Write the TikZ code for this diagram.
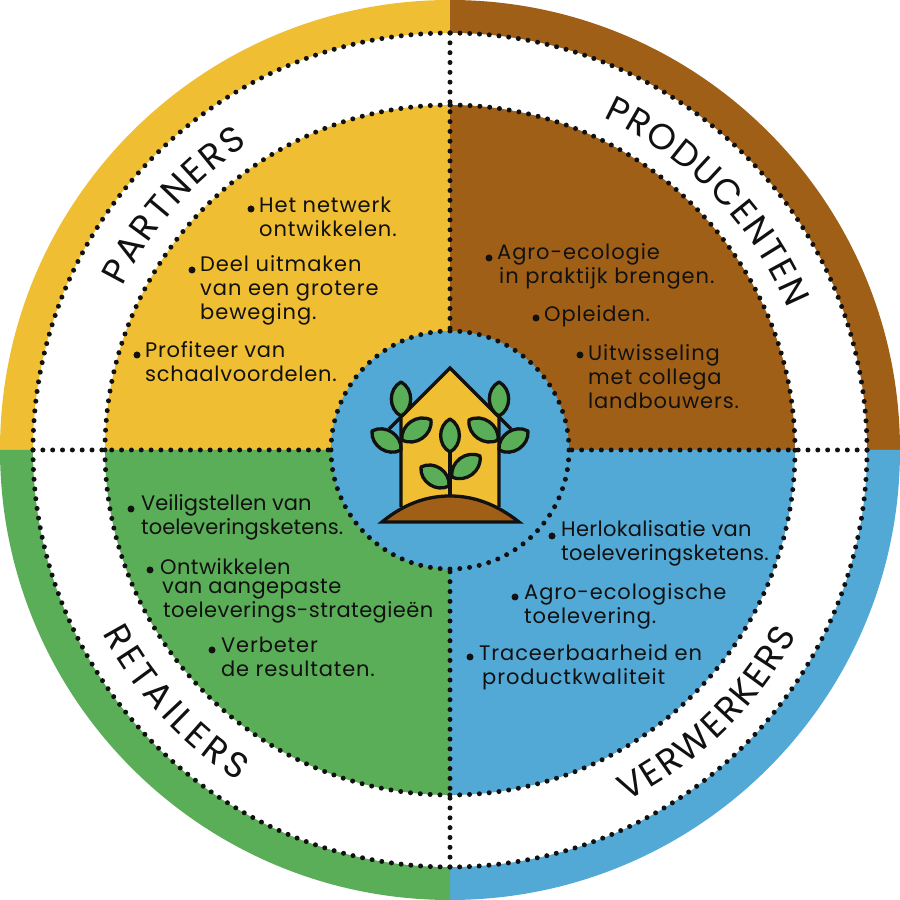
\documentclass[tikz,border=0pt]{standalone}
\usepackage{fontspec}
\setmainfont{Poppins}
\newfontfamily\ringfont{Poppins}
\usetikzlibrary{decorations.text,calc}
\definecolor{cy}{HTML}{F0BE32}
\definecolor{cb}{HTML}{A05F16}
\definecolor{cg}{HTML}{5BAE58}
\definecolor{cl}{HTML}{52A9D6}
\definecolor{ink}{HTML}{111111}
\tikzset{
  x=1pt,y=1pt,
  dots/.style={line width=5pt,line cap=round,dash pattern=on 0pt off 9.84pt,draw=ink},
  iconline/.style={draw=ink,line width=3.3pt,line join=miter},
  leafst/.style={draw=ink,line width=3.3pt,fill=cg,line join=round},
  txt/.style={anchor=west,align=left,inner sep=0pt,text=ink,font=\fontsize{21}{24}\selectfont\addfontfeature{LetterSpace=#1}},
  bul/.style={circle,fill=ink,inner sep=0pt,minimum size=7pt},
  ringlbl/.style n args={2}{decorate,decoration={text effects along path,text={#1},text align=center,
     text effects/.cd,text along path,
     character widths={font=\fontsize{36}{36}\ringfont,inner xsep=#2},
     characters={text=ink,font=\fontsize{36}{36}\ringfont}}}
}
\newcommand{\leaf}[2]{\draw[leafst] (#1) to[bend left=62,looseness=1.1] (#2) to[bend left=62,looseness=1.1] cycle;}
\begin{document}
\begin{tikzpicture}
\useasboundingbox (0,0) rectangle (900,900);
\coordinate (c) at (450,450);
% outer disc quadrants
\fill[cy] (c) -- (0,450) arc[start angle=180,delta angle=-90,radius=450] -- cycle;
\fill[cb] (c) -- (450,900) arc[start angle=90,delta angle=-90,radius=450] -- cycle;
\fill[cl] (c) -- (900,450) arc[start angle=0,delta angle=-90,radius=450] -- cycle;
\fill[cg] (c) -- (450,0) arc[start angle=270,delta angle=-90,radius=450] -- cycle;
% white ring
\fill[white] (c) circle[radius=417];
% inner quadrants
\fill[cy] (c) -- (105,450) arc[start angle=180,delta angle=-90,radius=345] -- cycle;
\fill[cb] (c) -- (450,795) arc[start angle=90,delta angle=-90,radius=345] -- cycle;
\fill[cl] (c) -- (795,450) arc[start angle=0,delta angle=-90,radius=345] -- cycle;
\fill[cg] (c) -- (450,105) arc[start angle=270,delta angle=-90,radius=345] -- cycle;
% dividing dotted spokes
\draw[dots] (450,867) -- (450,569);
\draw[dots] (450,33) -- (450,331);
\draw[dots] (33,450) -- (331,450);
\draw[dots] (867,450) -- (569,450);
% centre
\fill[cl] (c) circle[radius=119];
\draw[dots,dash pattern=on 0pt off 9.777pt] (450,867) arc[start angle=90,delta angle=360,radius=417];
\draw[dots,dash pattern=on 0pt off 9.853pt] (450,795) arc[start angle=90,delta angle=360,radius=345];
\draw[dots,dash pattern=on 0pt off 9.838pt] (450,569) arc[start angle=90,delta angle=360,radius=119];
% ring labels
\path[ringlbl={PRODUCENTEN}{0.8pt}] ($(c)+(89:366)$) arc[start angle=89,delta angle=-90,radius=366];
\path[ringlbl={PARTNERS}{1.3pt}] ($(c)+(183.5:366)$) arc[start angle=183.5,delta angle=-90,radius=366];
\path[ringlbl={VERWERKERS}{1pt}] ($(c)+(269.3:393)$) arc[start angle=269.3,delta angle=90,radius=393];
\path[ringlbl={RETAILERS}{2pt}] ($(c)+(177.6:393)$) arc[start angle=177.6,delta angle=90,radius=393];
\begin{scope}[y=-1pt,yshift=900pt]
% icon
\coordinate (apex) at (450,368);
\coordinate (hl) at (401,417);
\coordinate (hr) at (499,417);
\coordinate (wl) at (401,507);
\coordinate (wr) at (499,507);
\fill[cy] (apex) -- (hr) -- (wr) -- (450,496) -- (wl) -- (hl) -- cycle;
\draw[iconline,line cap=butt] (wl) -- (hl) -- (apex) -- (hr) -- (wr);
\draw[iconline] (hl) -- (389,429);
\draw[iconline] (hr) -- (511,429);
\draw[iconline] (450,496) -- (450,452);
\leaf{401,416}{401,382}
\leaf{401,450}{372,431}
\leaf{402,440}{431,420}
\leaf{499,382}{499,416}
\leaf{528,431}{499,450}
\leaf{469,420}{498,440}
\leaf{450,452}{450,419}
\leaf{449,486}{421,467}
\leaf{452,477}{480,456}
\draw[iconline,fill=cb,line join=miter] (382,522) .. controls (405,503) and (428,496) .. (450,496) .. controls (472,496) and (495,503) .. (519,522) -- cycle;
% texts
\node[bul] (b1) at (251,209) {};
\node[txt=4.3] (t1) at (259,217) {Het netwerk\\ontwikkelen.};
\node[bul] (b2) at (192,270) {};
\node[txt=4.5] (t2) at (200,290) {Deel uitmaken\\van een grotere\\beweging.};
\node[bul] (b3) at (137,355) {};
\node[txt=3.5] (t3) at (145,361.5) {Profiteer van\\schaalvoordelen.};
\node[bul] (b4) at (489,258) {};
\node[txt=4.5] (t4) at (497,266.5) {Agro-ecologie\\\hspace*{2pt}in praktijk brengen.};
\node[bul] (b5) at (536,318) {};
\node[txt=4] (t5) at (544,316) {Opleiden.};
\node[bul] (b6) at (580,355) {};
\node[txt=4] (t6) at (588,376.5) {Uitwisseling\\met collega\\landbouwers.};
\node[bul] (b7) at (131,509) {};
\node[txt=0] (t7) at (141,517.5) {Veiligstellen van\\toeleveringsketens.};
\node[bul] (b8) at (150,570) {};
\node[txt=2] (t8) at (160,591) {Ontwikkelen\\[-5pt]\hspace*{2pt}van aangepaste\\\hspace*{3pt}toeleverings-strategieën};
\node[bul] (b9) at (212,650) {};
\node[txt=4] (t9) at (221,657) {Verbeter\\de resultaten.};
\node[bul] (b10) at (552,536) {};
\node[txt=1.5] (t10) at (561,543) {Herlokalisatie van\\toeleveringsketens.};
\node[bul] (b11) at (515,597) {};
\node[txt=4.3] (t11) at (524,606) {Agro-ecologische\\toelevering.};
\node[bul] (b12) at (470,657) {};
\node[txt=4.3] (t12) at (479,667) {Traceerbaarheid en\\\hspace*{3pt}productkwaliteit};
\end{scope}
\end{tikzpicture}
\end{document}
